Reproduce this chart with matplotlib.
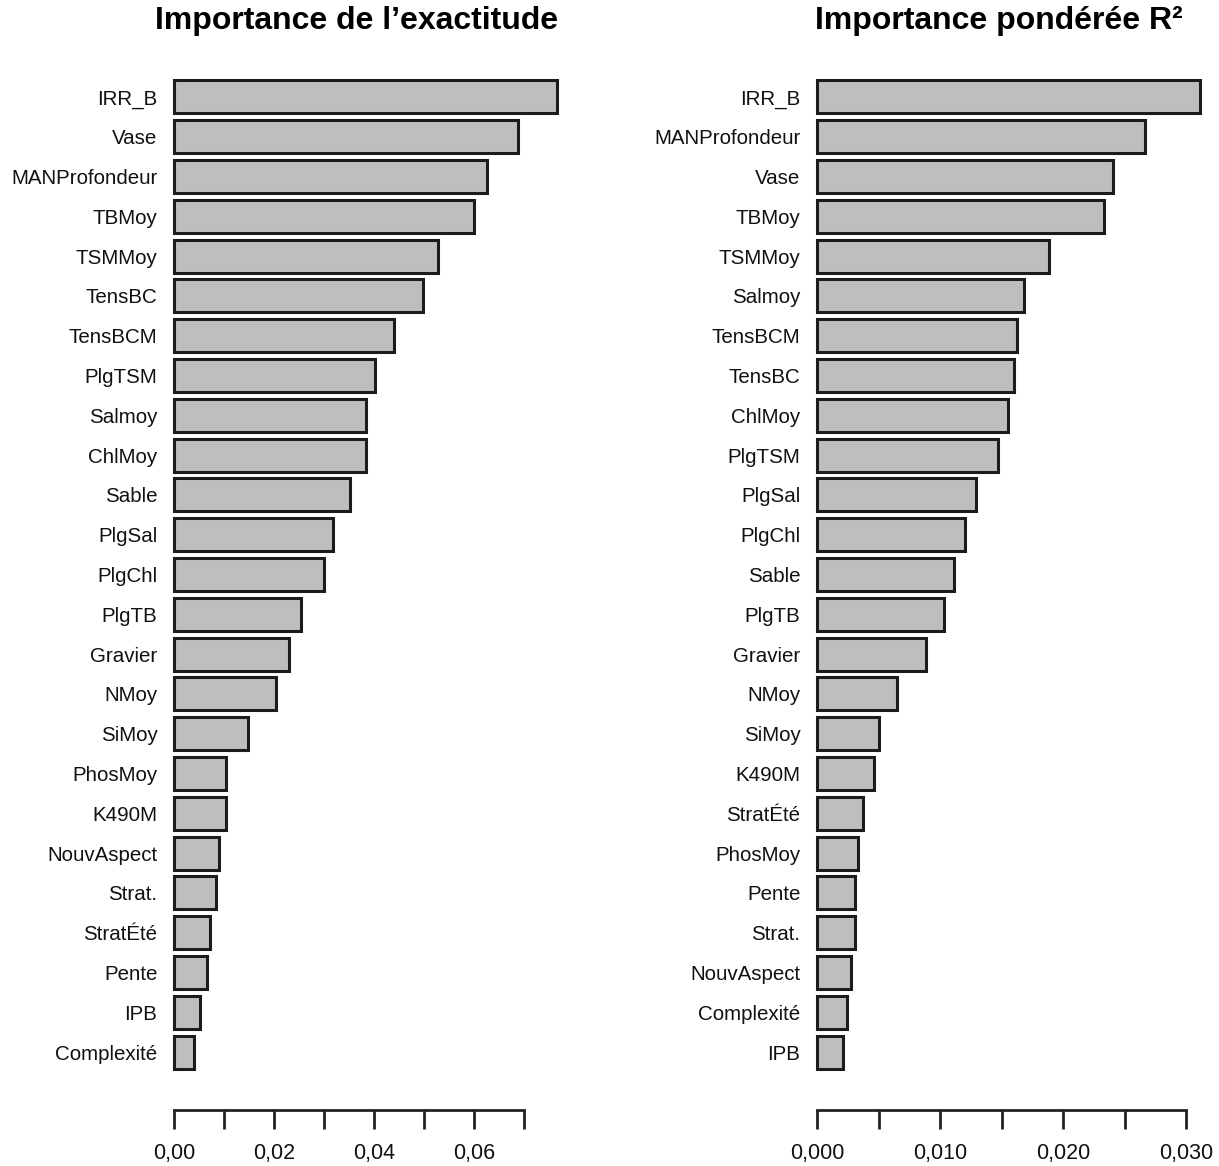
import matplotlib.pyplot as plt

plt.rcParams['font.family'] = ['Liberation Sans', 'DejaVu Sans']

# accuracy importance (left panel), top to bottom
acc_labels = ['IRR_B', 'Vase', 'MANProfondeur', 'TBMoy', 'TSMMoy', 'TensBC',
              'TensBCM', 'PlgTSM', 'Salmoy', 'ChlMoy', 'Sable', 'PlgSal',
              'PlgChl', 'PlgTB', 'Gravier', 'NMoy', 'SiMoy', 'PhosMoy',
              'K490M', 'NouvAspect', 'Strat.', 'StratÉté', 'Pente', 'IPB',
              'Complexité']
acc_values = [0.0766, 0.0688, 0.0626, 0.0600, 0.0528, 0.0498, 0.0440,
              0.0402, 0.0384, 0.0384, 0.0352, 0.0318, 0.0300, 0.0254,
              0.0230, 0.0204, 0.0148, 0.0104, 0.0104, 0.0090, 0.0084,
              0.0072, 0.0066, 0.0052, 0.0040]

# weighted R2 importance (right panel), top to bottom
r2_labels = ['IRR_B', 'MANProfondeur', 'Vase', 'TBMoy', 'TSMMoy', 'Salmoy',
             'TensBCM', 'TensBC', 'ChlMoy', 'PlgTSM', 'PlgSal', 'PlgChl',
             'Sable', 'PlgTB', 'Gravier', 'NMoy', 'SiMoy', 'K490M',
             'StratÉté', 'PhosMoy', 'Pente', 'Strat.', 'NouvAspect',
             'Complexité', 'IPB']
r2_values = [0.0311, 0.0267, 0.0241, 0.0233, 0.0189, 0.0168, 0.0163,
             0.0160, 0.0155, 0.0147, 0.0129, 0.0120, 0.0111, 0.0103,
             0.0089, 0.0065, 0.0050, 0.0046, 0.0037, 0.0033, 0.0031,
             0.0031, 0.0028, 0.0024, 0.0021]

acc_ticks = [0.00, 0.01, 0.02, 0.03, 0.04, 0.05, 0.06, 0.07]
acc_ticklabels = ['0,00', '', '0,02', '', '0,04', '', '0,06', '']
r2_ticks = [0.000, 0.005, 0.010, 0.015, 0.020, 0.025, 0.030]
r2_ticklabels = ['0,000', '', '0,010', '', '0,020', '', '0,030']

W, H = 1219, 1166
fig = plt.figure(figsize=(W / 100, H / 100), dpi=100)


def draw_panel(x0, px_per_unit, xmax, labels, values, ticks, ticklabels,
               title, title_x):
    width = xmax * px_per_unit
    ax = fig.add_axes([x0 / W, 1 - 1072 / H, width / W, (1072 - 77) / H])
    pos = range(len(labels))
    ax.barh(pos, values, height=0.83, color='#bebebe',
            edgecolor='#1c1c1c', linewidth=2.2, clip_on=False)
    ax.set_ylim(len(labels) - 0.5, -0.5)
    ax.set_xlim(0, xmax)
    ax.set_yticks(list(pos))
    ax.set_yticklabels(labels, fontsize=14.8, color='#111111')
    ax.tick_params(axis='y', length=0, pad=12)
    for side in ['left', 'right', 'top']:
        ax.spines[side].set_visible(False)
    ax.spines['bottom'].set_position(('outward', 27))
    ax.spines['bottom'].set_bounds(ticks[0], ticks[-1])
    ax.spines['bottom'].set_linewidth(2)
    ax.spines['bottom'].set_color('#222222')
    ax.set_xticks(ticks)
    ax.set_xticklabels(ticklabels, fontsize=15.5, color='#111111')
    ax.tick_params(axis='x', length=14, width=2, color='#222222', pad=10)
    fig.text(title_x / W, 1 - 21 / H, title, ha='center', va='center',
             fontsize=23, fontweight='bold')
    return ax


draw_panel(174, 5000, 0.08, acc_labels, acc_values, acc_ticks,
           acc_ticklabels, 'Importance de l’exactitude', 357)
draw_panel(817, 12300, 0.032, r2_labels, r2_values, r2_ticks,
           r2_ticklabels, 'Importance pondérée R²', 999)

fig.savefig('out.png', dpi=100)
